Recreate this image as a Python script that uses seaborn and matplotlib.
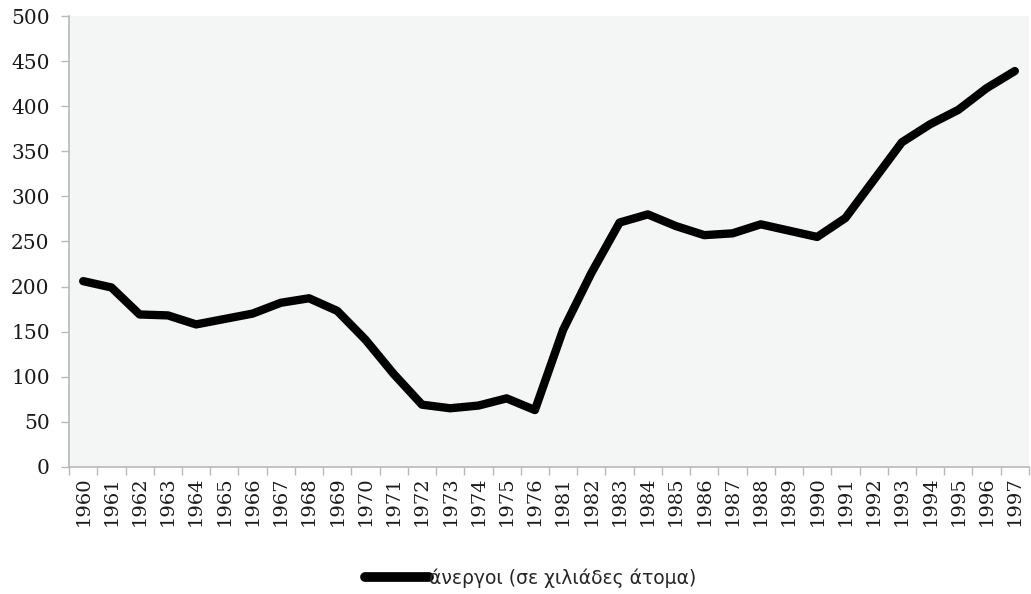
import numpy as np
import pandas as pd
import matplotlib
matplotlib.use("Agg")
import matplotlib.pyplot as plt
import seaborn as sns

# data (thousands of unemployed)
years = ["1960", "1961", "1962", "1963", "1964", "1965", "1966", "1967", "1968",
         "1969", "1970", "1971", "1972", "1973", "1974", "1975", "1976",
         "1981", "1982", "1983", "1984", "1985", "1986", "1987", "1988",
         "1989", "1990", "1991", "1992", "1993", "1994", "1995", "1996", "1997"]
unemployed = [206, 199, 169, 168, 158, 164, 170, 182, 187,
              173, 141, 103, 69, 65, 68, 76, 63,
              152, 215, 271, 280, 267, 257, 259, 269,
              262, 255, 276, 318, 360, 380, 396, 420, 439]
y_ticks = [0, 50, 100, 150, 200, 250, 300, 350, 400, 450, 500]
series_name = "άνεργοι (σε χιλιάδες άτομα)"

df = pd.DataFrame({"year": years, "value": unemployed})

sns.set_theme(style="white")
plt.rcParams["font.family"] = ["DejaVu Serif"]

fig = plt.figure(figsize=(10.31, 5.94), dpi=100)
ax = fig.add_axes([0.067, 0.214, 0.931, 0.759])
ax.set_facecolor("#f4f5f5")

sns.lineplot(data=df, x="year", y="value", color="black", linewidth=6,
             solid_capstyle="round", label=series_name, ax=ax)

ax.set_xlim(-0.5, len(years) - 0.5)
ax.set_ylim(0, 500)
ax.set_yticks(y_ticks)
ax.set_xticks(range(len(years)))
ax.set_xticklabels(years, rotation=90)
ax.set_xticks(np.arange(-0.5, len(years)), minor=True)
ax.tick_params(axis="x", which="major", length=0, pad=7, labelsize=14, colors="#1a1a1a")
ax.tick_params(axis="x", which="minor", length=6, width=1, color="#b8b8b8", bottom=True)
ax.tick_params(axis="y", which="major", length=6, width=1, color="#b8b8b8", left=True,
               labelsize=14.5, labelcolor="#1a1a1a", pad=8)
ax.set_xlabel("")
ax.set_ylabel("")

for side in ["top", "right"]:
    ax.spines[side].set_visible(False)
for side in ["left", "bottom"]:
    ax.spines[side].set_color("#b8b8b8")
    ax.spines[side].set_linewidth(1.2)

leg = ax.legend(loc="center", bbox_to_anchor=(0.481, -0.246), frameon=False,
                handlelength=3.4, handletextpad=0.0,
                prop={"family": ["DejaVu Sans"], "size": 13.5})
for line in leg.get_lines():
    line.set_linewidth(7)
    line.set_solid_capstyle("round")

fig.savefig("out.png", dpi=100)
